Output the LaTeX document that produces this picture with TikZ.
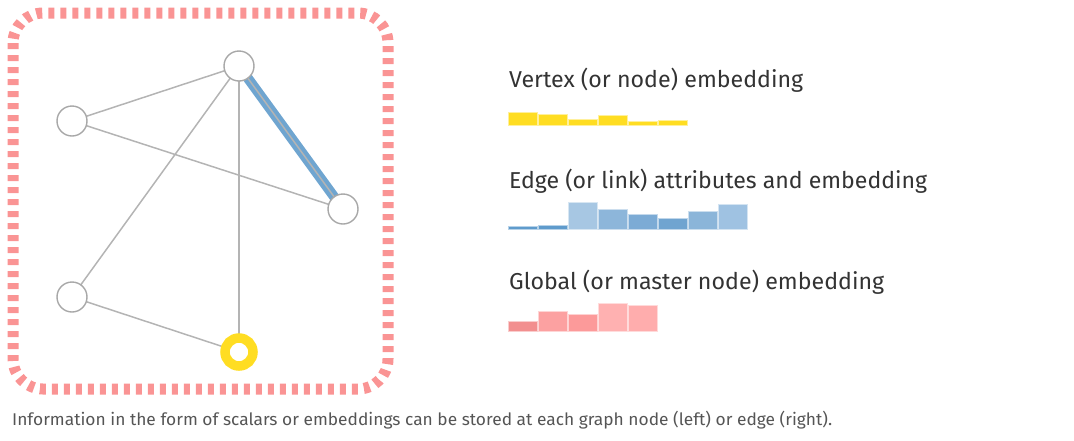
\documentclass[tikz,border=0pt]{standalone}
\usepackage{fontspec}
\setmainfont{Fira Sans}
\definecolor{framepink}{HTML}{FA9494}
\definecolor{edgegray}{HTML}{B4B4B4}
\definecolor{nodegray}{HTML}{A8A8A8}
\definecolor{edgeblue}{HTML}{6FA5D0}
\definecolor{nodeyellow}{HTML}{FFDD22}
\definecolor{labeltext}{HTML}{333333}
\definecolor{captiontext}{HTML}{555555}
% bar colours of the edge embedding
\definecolor{ea}{RGB}{95,155,204}
\definecolor{eb}{RGB}{167,199,227}
\definecolor{ec}{RGB}{141,182,218}
\definecolor{ed}{RGB}{124,171,213}
\definecolor{ee}{RGB}{112,164,208}
\definecolor{ef}{RGB}{139,181,217}
\definecolor{eg}{RGB}{159,194,226}
% bar colours of the global embedding
\definecolor{ga}{RGB}{242,143,143}
\definecolor{gb}{RGB}{252,161,161}
\definecolor{gc}{RGB}{252,154,154}
\definecolor{gd}{RGB}{255,177,177}
\definecolor{ge}{RGB}{255,173,173}
% one bar of an embedding: left x, top y, bottom y, colour
\newcommand\ebar[4]{%
  \filldraw[fill=#4, draw=#4!45!white, line width=1pt]
    (#1+0.5,#2) rectangle (#1+29.5,#3);}
\begin{document}
\begin{tikzpicture}[x=1pt,y=-1pt,
  frame/.style={draw=framepink, line width=11pt, dash pattern=on 6pt off 6pt, rounded corners=30pt},
  vert/.style={circle, draw=nodegray, line width=1.4pt, fill=white, minimum size=30pt, inner sep=0pt},
  hotvert/.style={circle, draw=nodeyellow, line width=9.5pt, fill=white, minimum size=28pt, inner sep=0pt},
  link/.style={draw=edgegray, line width=1.5pt},
  hotlink/.style={draw=edgeblue, line width=10pt},
  lbl/.style={anchor=base west, inner sep=0pt, text=labeltext, font=\fontsize{23}{26}\selectfont},
  captext/.style={anchor=base west, inner sep=0pt, text=captiontext, font=\fontsize{17}{20}\selectfont}]
\useasboundingbox (0,0) rectangle (1074,440);

% dashed rounded frame around the graph
\draw[frame] (13,13) rectangle (388,389);

% graph vertices
\coordinate (pa) at (239,66);
\coordinate (pb) at (72,121);
\coordinate (pc) at (343,209);
\coordinate (pd) at (72,297);
\coordinate (pe) at (239,352);

% highlighted edge underneath
\draw[hotlink] (pa) -- (pc);
% edges
\draw[link] (pa) -- (pb);
\draw[link] (pb) -- (pc);
\draw[link] (pa) -- (pd);
\draw[link] (pa) -- (pe);
\draw[link] (pd) -- (pe);
\draw[link] (pa) -- (pc);

\node[vert] (a) at (pa) {};
\node[vert] (b) at (pb) {};
\node[vert] (c) at (pc) {};
\node[vert] (d) at (pd) {};
\node[hotvert] (e) at (pe) {};

% legend labels
\node[lbl] (tv) at (509,87) {\resizebox{294pt}{\height}{Vertex (or node) embedding}};
\node[lbl] (te) at (509,188.5) {\resizebox{418pt}{\height}{Edge (or link) attributes and embedding}};
\node[lbl] (tg) at (509,289.5) {\resizebox{375pt}{\height}{Global (or master node) embedding}};

% vertex embedding bars
\ebar{508}{112}{125.5}{nodeyellow}
\ebar{538}{114}{125.5}{nodeyellow}
\ebar{568}{119.5}{125.5}{nodeyellow}
\ebar{598}{115}{125.5}{nodeyellow}
\ebar{628}{121}{125.5}{nodeyellow}
\ebar{658}{120.5}{125.5}{nodeyellow}

% edge embedding bars
\ebar{508}{226}{229}{ea}
\ebar{538}{225.7}{229}{ea}
\ebar{568}{202.3}{229}{eb}
\ebar{598}{209.7}{229}{ec}
\ebar{628}{214.7}{229}{ed}
\ebar{658}{218}{229}{ee}
\ebar{688}{211}{229}{ef}
\ebar{718}{204}{229}{eg}

% global embedding bars
\ebar{508}{321.7}{331}{ga}
\ebar{538}{311}{331}{gb}
\ebar{568}{314.3}{331}{gc}
\ebar{598}{303.3}{331}{gd}
\ebar{628}{305}{331}{ge}

% caption
\node[captext] (caption) at (12,425.5) {\resizebox{820pt}{\height}{Information in the form of scalars or embeddings can be stored at each graph node (left) or edge (right).}};
\end{tikzpicture}
\end{document}
